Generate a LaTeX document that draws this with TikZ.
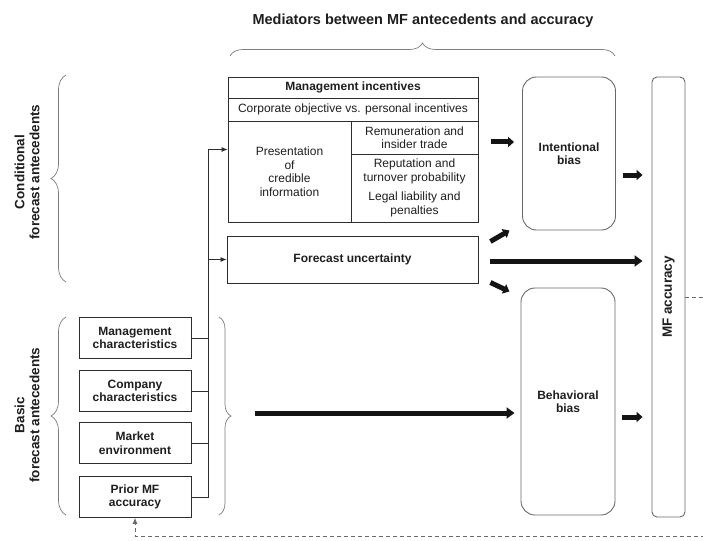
\documentclass[tikz,border=0pt]{standalone}
\usepackage{fontspec}
\setmainfont{Liberation Sans}
\usepackage{xcolor}
\usetikzlibrary{positioning, arrows.meta, calc, decorations.pathreplacing}
\definecolor{BoxLine}{RGB}{45,45,45}
\definecolor{SoftLine}{RGB}{105,105,105}
\definecolor{BraceGray}{RGB}{125,125,125}
\definecolor{InkText}{RGB}{30,30,30}
\definecolor{FatInk}{RGB}{20,20,20}
\tikzset{
  cell/.style={draw=BoxLine, line width=0.8pt, inner sep=2pt, align=center, text=InkText,
    font=\fontsize{12}{13.5}\selectfont},
  cellhead/.style={cell, font=\fontsize{12}{13.5}\selectfont\bfseries},
  antebox/.style={cellhead, minimum width=112pt, minimum height=41pt},
  biasbox/.style={draw=SoftLine, line width=0.9pt, rounded corners=14pt, align=center, text=InkText,
    font=\fontsize{12}{13.5}\selectfont\bfseries, minimum width=93pt},
  accbox/.style={draw=SoftLine, line width=0.9pt, rounded corners=5pt, minimum width=33pt, minimum height=440pt},
  brc/.style={decorate, decoration={brace, amplitude=#1}, draw=BraceGray, line width=0.7pt},
  brc/.default=14pt,
  busline/.style={line width=0.8pt, BoxLine},
  thinarr/.style={busline, -{Latex[length=6pt,width=5pt]}},
  fatarr/.style={-{Triangle[length=6pt,width=10pt]}, line width=5pt, FatInk},
  longarr/.style={-{Triangle[length=8pt,width=11pt]}, line width=5pt, FatInk},
  backarr/.style={-{Latex[length=6pt,width=5pt]}, dash pattern=on 4pt off 3pt, line width=0.7pt, SoftLine},
  grouplab/.style={rotate=90, align=center, font=\fontsize{13.5}{15}\selectfont\bfseries, text=InkText},
}

\begin{document}
\begin{tikzpicture}[x=1pt, y=-1pt]
    \useasboundingbox (0,0) rectangle (703,540);
    % headings and braces
    \node[font=\fontsize{14.5}{16}\selectfont\bfseries, text=InkText] (title) at (423,21)
      {Mediators between MF antecedents and accuracy};
    \draw[brc=13pt] (230,56) -- (615,56);
    \node[grouplab] (condlab) at (27,172) {Conditional\\forecast antecedents};
    \node[grouplab] (baslab) at (27,415) {Basic\\forecast antecedents};
    \draw[brc=15pt] (66,282) -- (66,75);
    \draw[brc=15pt] (66,515) -- (66,317);
    \draw[brc=12pt] (219,317) -- (219,515);

    % basic antecedents
    \foreach \y/\nm/\txt in {338/mgmt/{Management\\characteristics}, 391/comp/{Company\\characteristics},
                             443/mkt/{Market\\environment}, 497/prior/{Prior MF\\accuracy}}
      \node[antebox] (\nm) at (135,\y) {\txt};

    % management incentives block
    \node[cell, minimum width=250pt, minimum height=145pt] (mi) at (353,149.5) {};
    \node[cellhead, minimum width=250pt, minimum height=21pt] (mihead) at (353,87.5) {Management incentives};
    \node[cell, minimum width=250pt, minimum height=23pt] (micorp) at (353,109.5)
      {Corporate objective vs. personal incentives};
    \node[cell, minimum width=123pt, minimum height=101pt] (mipres) at (289.5,171.5)
      {Presentation\\of\\credible\\information};
    \node[cell, minimum width=127pt, minimum height=33pt] (mirem) at (414.5,137.5)
      {Remuneration and\\insider trade};
    \node[cell, minimum width=127pt, minimum height=68pt] (milow) at (414.5,188)
      {Reputation and\\turnover probability\\[6pt]Legal liability and\\penalties};
    \node[cellhead, minimum width=251pt, minimum height=47pt] (fu) at (352.5,259.5) {Forecast uncertainty};

    % biases and accuracy
    \node[biasbox, minimum height=153pt] (ib) at (569,153.5) {Intentional\\bias};
    \node[biasbox, minimum width=94pt, minimum height=227pt] (bb) at (568,401.5) {Behavioral\\bias};
    \node[accbox] (mfa) at (668.5,297) {};
    \node[rotate=90, font=\fontsize{13.5}{15}\selectfont\bfseries, text=InkText] (mfalab) at (mfa.center) {MF accuracy};

    % thin connectors
    \coordinate (bus) at (208,0);
    \foreach \nm in {mgmt,comp,mkt}
      \draw[busline] (\nm.east) -- (\nm.east -| bus);
    \draw[thinarr] (prior.east) -| (bus |- mi.west) -- (mi.west);
    \draw[thinarr] (bus |- fu.west) -- (fu.west);

    % fat arrows
    \draw[fatarr] ($(ib.west)+(-31,-11.5)$) -- ($(ib.west)+(-8,-11.5)$);
    \draw[fatarr] ($(fu.east)+(12,-18)$) -- ($(fu.east)+(31,-29)$);
    \draw[fatarr] ($(fu.east)+(12,23)$) -- ($(fu.east)+(31,32)$);
    \draw[longarr] ($(fu.east)+(12,1.5)$) -- ($(mfa.west |- fu.east)+(-9,1.5)$);
    \draw[longarr] ($(bb.west)+(-266,11.5)$) -- ($(bb.west)+(-6,11.5)$);
    \draw[fatarr] ($(ib.east)+(7,21.5)$) -- ($(mfa.west |- ib.east)+(-9,21.5)$);
    \draw[fatarr] ($(bb.east)+(7,15.5)$) -- ($(mfa.west |- bb.east)+(-9,15.5)$);

    % feedback
    \coordinate (fbcorner) at (712,536);
    \draw[backarr] (mfa.east) -| (fbcorner) -| (prior.south);
\end{tikzpicture}
\end{document}
